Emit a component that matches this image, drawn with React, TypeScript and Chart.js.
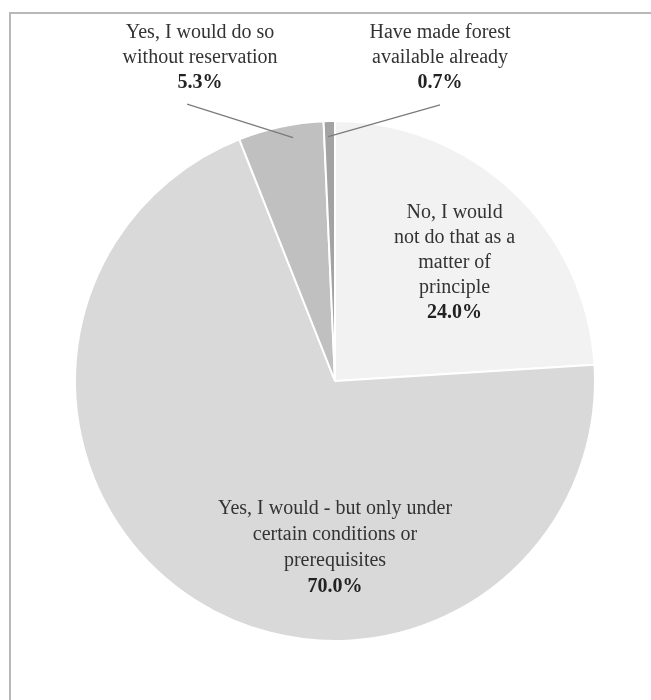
import React, { useEffect, useRef } from "react";
import { Chart, registerables } from "chart.js";

Chart.register(...registerables);

const categories = [
  "No, I would not do that as a matter of principle",
  "Yes, I would - but only under certain conditions or prerequisites",
  "Yes, I would do so without reservation",
  "Have made forest available already",
];
const labelLines = [
  ["No, I would", "not do that as a", "matter of", "principle"],
  ["Yes, I would - but only under", "certain conditions or", "prerequisites"],
  ["Yes, I would do so", "without reservation"],
  ["Have made forest", "available already"],
];
const values = [24.0, 70.0, 5.3, 0.7];
const colors = ["#f2f2f2", "#d9d9d9", "#c0c0c0", "#a3a3a3"];

// label placement (fractions of the radius, relative to the pie centre)
const labelAnchors = [
  { dx: 0.46, dy: -0.454, lh: 25 },
  { dx: 0.0, dy: 0.64, lh: 26 },
  { dx: -0.519, dy: -1.242, lh: 25 },
  { dx: 0.404, dy: -1.242, lh: 25 },
];
// leader lines: start (fractions of radius), end (fraction of slice angle, fraction of radius)
const leaders: Array<null | { sx: number; sy: number; af: number; rf: number }> = [
  null,
  null,
  { sx: -0.569, sy: -1.065, af: 0.62, rf: 0.95 },
  { sx: 0.404, sy: -1.062, af: 0.37, rf: 0.94 },
];

const FONT = '"Liberation Serif", "Times New Roman", serif';

const labelPlugin = {
  id: "pieLabels",
  afterDraw(chart: any) {
    const ctx = chart.ctx as CanvasRenderingContext2D;
    const meta = chart.getDatasetMeta(0);
    // frame (top + left)
    ctx.save();
    ctx.strokeStyle = "#b8b8b8";
    ctx.lineWidth = 2;
    ctx.beginPath();
    ctx.moveTo(10, chart.height);
    ctx.lineTo(10, 13);
    ctx.lineTo(chart.width, 13);
    ctx.stroke();
    ctx.restore();

    meta.data.forEach((arc: any, i: number) => {
      const { x, y, startAngle, endAngle, outerRadius } = arc.getProps(
        ["x", "y", "startAngle", "endAngle", "outerRadius"],
        true
      );
      const r = outerRadius;
      const ld = leaders[i];
      if (ld) {
        const a = startAngle + (endAngle - startAngle) * ld.af;
        ctx.save();
        ctx.strokeStyle = "#7a7a7a";
        ctx.lineWidth = 1.2;
        ctx.beginPath();
        ctx.moveTo(x + ld.sx * r, y + ld.sy * r);
        ctx.lineTo(x + Math.cos(a) * r * ld.rf, y + Math.sin(a) * r * ld.rf);
        ctx.stroke();
        ctx.restore();
      }
      const an = labelAnchors[i];
      const lines = labelLines[i];
      const total = lines.length + 1;
      const cx = x + an.dx * r;
      const cy = y + an.dy * r;
      const top = cy - ((total - 1) * an.lh) / 2;
      ctx.save();
      ctx.textAlign = "center";
      ctx.textBaseline = "middle";
      ctx.fillStyle = "#333333";
      ctx.font = `20px ${FONT}`;
      lines.forEach((t, k) => ctx.fillText(t, cx, top + k * an.lh));
      ctx.font = `bold 20px ${FONT}`;
      ctx.fillStyle = "#222222";
      ctx.fillText(values[i].toFixed(1) + "%", cx, top + lines.length * an.lh);
      ctx.restore();
    });
  },
};

export default function App() {
  const ref = useRef<HTMLCanvasElement | null>(null);
  useEffect(() => {
    if (!ref.current) return;
    const chart = new Chart(ref.current, {
      type: "pie",
      data: {
        labels: categories,
        datasets: [
          {
            data: values,
            backgroundColor: colors,
            borderColor: "#ffffff",
            borderWidth: 2,
          },
        ],
      },
      options: {
        responsive: false,
        animation: false,
        layout: { padding: { left: 74, right: 55, top: 120, bottom: 58 } },
        plugins: {
          legend: { display: false },
          tooltip: { enabled: false },
          title: { display: false },
        },
      },
      plugins: [labelPlugin],
    });
    return () => chart.destroy();
  }, []);
  return (
    <div style={{ position: "absolute", left: 0, top: 0, width: 651, height: 700, background: "#fff" }}>
      <canvas ref={ref} width={651} height={700} style={{ display: "block" }} />
    </div>
  );
}
